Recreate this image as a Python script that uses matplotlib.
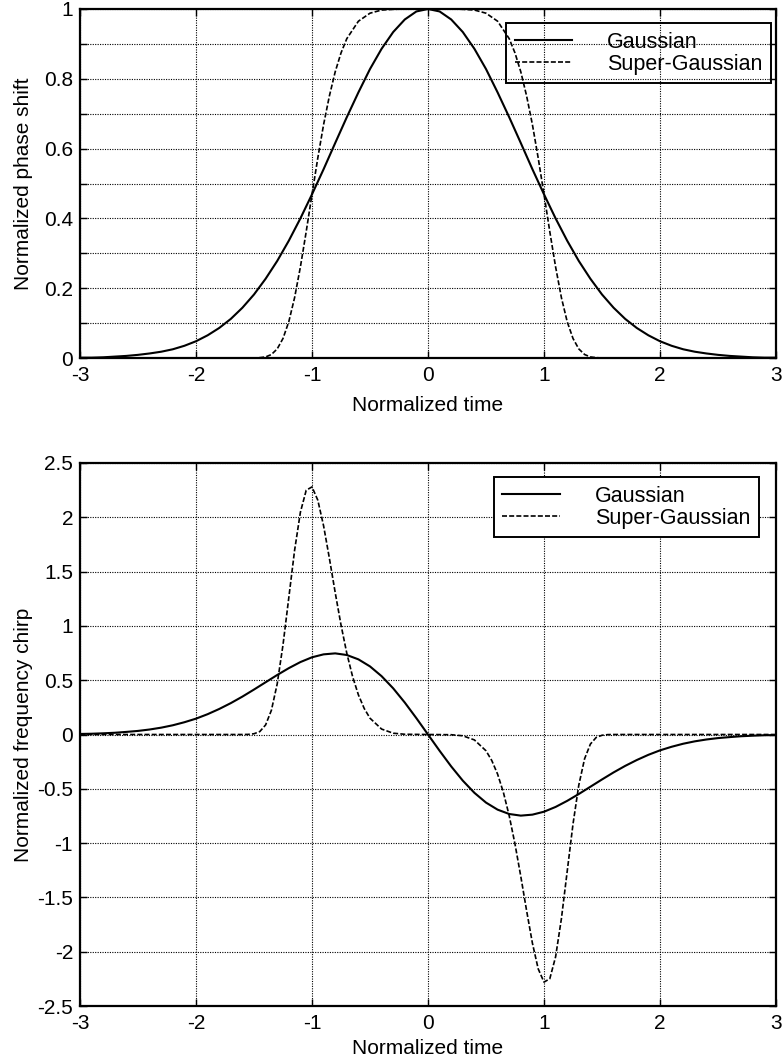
import matplotlib
matplotlib.use("Agg")
import matplotlib.pyplot as plt

plt.rcParams['font.family'] = ['Liberation Sans', 'DejaVu Sans']

# ---------------- data ----------------
t_gauss = [-3.0, -2.9, -2.8, -2.7, -2.6, -2.5, -2.4, -2.3, -2.2, -2.1,
           -2.0, -1.9, -1.8, -1.7, -1.6, -1.5, -1.4, -1.3, -1.2, -1.1,
           -1.0, -0.9, -0.8, -0.7, -0.6, -0.5, -0.4, -0.3, -0.2, -0.1,
           0.0, 0.1, 0.2, 0.3, 0.4, 0.5, 0.6, 0.7, 0.8, 0.9,
           1.0, 1.1, 1.2, 1.3, 1.4, 1.5, 1.6, 1.7, 1.8, 1.9,
           2.0, 2.1, 2.2, 2.3, 2.4, 2.5, 2.6, 2.7, 2.8, 2.9, 3.0]

phase_gauss = [0.001, 0.001, 0.002, 0.004, 0.006, 0.009, 0.013, 0.018, 0.025, 0.035,
               0.048, 0.065, 0.086, 0.112, 0.144, 0.182, 0.227, 0.278, 0.336, 0.400,
               0.469, 0.541, 0.616, 0.690, 0.761, 0.828, 0.886, 0.934, 0.970, 0.993,
               1.000, 0.993, 0.970, 0.934, 0.886, 0.828, 0.761, 0.690, 0.616, 0.541,
               0.469, 0.400, 0.336, 0.278, 0.227, 0.182, 0.144, 0.112, 0.086, 0.065,
               0.048, 0.035, 0.025, 0.018, 0.013, 0.009, 0.006, 0.004, 0.002, 0.001, 0.001]

chirp_gauss = [0.005, 0.007, 0.011, 0.016, 0.024, 0.033, 0.046, 0.063, 0.085, 0.113,
               0.146, 0.187, 0.235, 0.289, 0.349, 0.414, 0.481, 0.548, 0.611, 0.667,
               0.711, 0.738, 0.747, 0.732, 0.692, 0.627, 0.537, 0.425, 0.294, 0.150,
               0.000, -0.150, -0.294, -0.425, -0.537, -0.627, -0.692, -0.732, -0.747, -0.738,
               -0.711, -0.667, -0.611, -0.548, -0.481, -0.414, -0.349, -0.289, -0.235, -0.187,
               -0.146, -0.113, -0.085, -0.063, -0.046, -0.033, -0.024, -0.016, -0.011, -0.007, -0.005]

t_super_phase = [-3.0, -2.0, -1.6, -1.5, -1.45, -1.4, -1.35, -1.3, -1.25, -1.2,
                 -1.15, -1.1, -1.05, -1.0, -0.95, -0.9, -0.85, -0.8, -0.75, -0.7,
                 -0.6, -0.5, -0.4, -0.3, -0.2, 0.0, 0.2, 0.3, 0.4, 0.5,
                 0.6, 0.7, 0.75, 0.8, 0.85, 0.9, 0.95, 1.0, 1.05, 1.1,
                 1.15, 1.2, 1.25, 1.3, 1.35, 1.4, 1.45, 1.5, 1.6, 2.0, 3.0]

phase_super = [0.0, 0.0, 0.0, 0.0, 0.001, 0.003, 0.010, 0.026, 0.056, 0.104,
               0.173, 0.261, 0.362, 0.469, 0.573, 0.669, 0.751, 0.820, 0.874, 0.915,
               0.965, 0.988, 0.997, 0.999, 1.000, 1.000, 1.000, 0.999, 0.997, 0.988,
               0.965, 0.915, 0.874, 0.820, 0.751, 0.669, 0.573, 0.469, 0.362, 0.261,
               0.173, 0.104, 0.056, 0.026, 0.010, 0.003, 0.001, 0.0, 0.0, 0.0, 0.0]

t_super_chirp = [-3.0, -2.0, -1.6, -1.55, -1.5, -1.45, -1.4, -1.35, -1.3, -1.25,
                 -1.2, -1.15, -1.1, -1.05, -1.0, -0.95, -0.9, -0.85, -0.8, -0.75,
                 -0.7, -0.65, -0.6, -0.55, -0.5, -0.4, -0.3, -0.2, 0.0, 0.2,
                 0.3, 0.4, 0.5, 0.55, 0.6, 0.65, 0.7, 0.75, 0.8, 0.85,
                 0.9, 0.95, 1.0, 1.05, 1.1, 1.15, 1.2, 1.25, 1.3, 1.35,
                 1.4, 1.45, 1.5, 1.55, 1.6, 2.0, 3.0]

chirp_super = [0.0, 0.0, 0.0, 0.001, 0.007, 0.027, 0.088, 0.223, 0.466, 0.825,
               1.260, 1.696, 2.047, 2.249, 2.280, 2.158, 1.921, 1.622, 1.307, 1.009,
               0.748, 0.533, 0.365, 0.240, 0.150, 0.050, 0.012, 0.002, 0.0, -0.002,
               -0.012, -0.050, -0.150, -0.240, -0.365, -0.533, -0.748, -1.009, -1.307, -1.622,
               -1.921, -2.158, -2.280, -2.249, -2.047, -1.696, -1.260, -0.825, -0.466, -0.223,
               -0.088, -0.027, -0.007, -0.001, 0.0, 0.0, 0.0]

x_ticks = [-3, -2, -1, 0, 1, 2, 3]
x_tick_labels = ['-3', '-2', '-1', '0', '1', '2', '3']
y1_ticks = [0, 0.1, 0.2, 0.3, 0.4, 0.5, 0.6, 0.7, 0.8, 0.9, 1.0]
y1_tick_labels = ['0', '', '0.2', '', '0.4', '', '0.6', '', '0.8', '', '1']
y2_ticks = [-2.5, -2, -1.5, -1, -0.5, 0, 0.5, 1, 1.5, 2, 2.5]
y2_tick_labels = ['-2.5', '-2', '-1.5', '-1', '-0.5', '0', '0.5', '1', '1.5', '2', '2.5']
series_names = ['Gaussian', 'Super-Gaussian']

# ---------------- figure ----------------
W, H = 784, 1063
fig = plt.figure(figsize=(W / 100, H / 100), dpi=100)
ax1 = fig.add_axes([80 / W, (H - 358) / H, 696 / W, 349 / H])
ax2 = fig.add_axes([80 / W, (H - 1006) / H, 696 / W, 543 / H])

FS = 15
LFS = 15.5
DASH = (0, (3, 1.3))


def style(ax):
    ax.set_xlim(-3, 3)
    ax.set_xticks(x_ticks)
    ax.set_xticklabels(x_tick_labels)
    ax.grid(True, color='black', linestyle=(0, (1, 1.2)), linewidth=0.8)
    ax.set_axisbelow(True)
    ax.tick_params(direction='in', top=True, right=True, length=5, width=1,
                   labelsize=FS, colors='black')
    ax.tick_params(axis='x', pad=6)
    ax.tick_params(axis='y', pad=5)
    for sp in ax.spines.values():
        sp.set_linewidth(1.6)
        sp.set_color('black')


def make_legend(ax, anchor, face):
    leg = ax.legend(loc='upper right', bbox_to_anchor=anchor, fontsize=LFS,
                    frameon=True, fancybox=False, framealpha=1, edgecolor='black',
                    facecolor=face, handlelength=2.65, handletextpad=1.65,
                    labelspacing=0.05, borderpad=0.4, borderaxespad=0)
    leg.get_frame().set_linewidth(1.4)
    return leg


# top panel
ax1.plot(t_gauss, phase_gauss, color='black', linewidth=1.5, label=series_names[0])
ax1.plot(t_super_phase, phase_super, color='black', linewidth=1.2, linestyle=DASH,
         label=series_names[1])
style(ax1)
ax1.set_ylim(0, 1)
ax1.set_yticks(y1_ticks)
ax1.set_yticklabels(y1_tick_labels)
ax1.set_xlabel('Normalized time', fontsize=FS)
ax1.set_ylabel('Normalized phase shift', fontsize=FS)
ax1.xaxis.set_label_coords(0.5, -0.109)
ax1.yaxis.set_label_coords(-0.067, 0.5)
make_legend(ax1, (0.993, 0.960), 'none')

# bottom panel
ax2.plot(t_gauss, chirp_gauss, color='black', linewidth=1.5, label=series_names[0])
ax2.plot(t_super_chirp, chirp_super, color='black', linewidth=1.2, linestyle=DASH,
         label=series_names[1])
style(ax2)
ax2.set_ylim(-2.5, 2.5)
ax2.set_yticks(y2_ticks)
ax2.set_yticklabels(y2_tick_labels)
ax2.set_xlabel('Normalized time', fontsize=FS)
ax2.set_ylabel('Normalized frequency chirp', fontsize=FS)
ax2.xaxis.set_label_coords(0.5, -0.0608)
ax2.yaxis.set_label_coords(-0.067, 0.5)
make_legend(ax2, (0.9756, 0.974), 'white')

fig.savefig('out.png', dpi=100)
